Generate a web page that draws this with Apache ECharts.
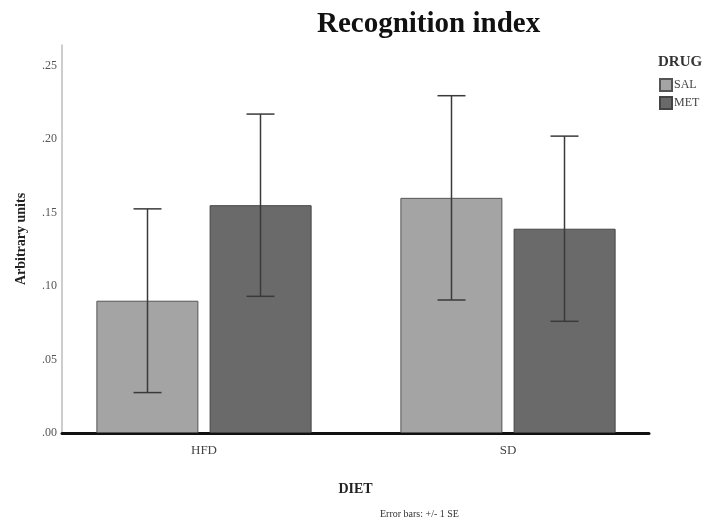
<!DOCTYPE html>
<html><head><meta charset="utf-8">
<script src="https://cdn.jsdelivr.net/npm/echarts@6/dist/echarts.min.js"></script>
<style>html,body{margin:0;padding:0;background:#fff}#c{width:708px;height:527px}</style>
</head><body><div id="c"></div>
<script>
const categories = ['HFD', 'SD'];
const seriesNames = ['SAL', 'MET'];
const salValues = [0.090, 0.160];
const metValues = [0.155, 0.139];
const salErr = [0.0625, 0.0695];
const metErr = [0.062, 0.063];
const yTicks = [0, 0.05, 0.10, 0.15, 0.20, 0.25];

const SERIF = '"Liberation Serif", "DejaVu Serif", serif';
const colors = ['#a4a4a4', '#6a6a6a'];
const yMax = 0.264;

const chart = echarts.init(document.getElementById('c'), null, {renderer: 'canvas'});

function errSeries(vals, errs, idx) {
  return {
    type: 'custom', xAxisIndex: 1, yAxisIndex: 1, z: 10,
    data: categories.map((c, i) => [i, vals[i] - errs[i], vals[i] + errs[i]]),
    renderItem: function (params, api) {
      const ci = api.value(0);
      const lo = api.coord([ci, api.value(1)]);
      const hi = api.coord([ci, api.value(2)]);
      const bw = 102, gap = 11;
      const offset = idx === 0 ? -(gap / 2 + bw / 2) : (gap / 2 + bw / 2);
      const x = lo[0] + offset;
      const cap = 14;
      const st = {stroke: '#3a3a3a', lineWidth: 1.5};
      return {type: 'group', children: [
        {type: 'line', shape: {x1: x, y1: hi[1], x2: x, y2: lo[1]}, style: st},
        {type: 'line', shape: {x1: x - cap, y1: hi[1], x2: x + cap, y2: hi[1]}, style: st},
        {type: 'line', shape: {x1: x - cap, y1: lo[1], x2: x + cap, y2: lo[1]}, style: st}
      ]};
    }
  };
}

chart.setOption({
  animation: false,
  backgroundColor: '#fff',
  grid: [
    {left: 62, right: 59, top: 45, bottom: 94},
    {left: 52, right: 48, top: 45, bottom: 94}
  ],
  xAxis: [
    {type: 'value', gridIndex: 0, min: 0, max: 1, axisLabel: {show: false}, axisTick: {show: false},
     splitLine: {show: false},
     axisLine: {show: true, lineStyle: {color: '#111', width: 3}},
     name: 'DIET', nameLocation: 'middle', nameGap: 49,
     nameTextStyle: {fontFamily: SERIF, fontWeight: 'bold', fontSize: 14, color: '#222'}},
    {type: 'category', gridIndex: 1, data: categories, axisLine: {show: false}, axisTick: {show: false},
     axisLabel: {fontFamily: SERIF, fontSize: 13, color: '#444', margin: 11}}
  ],
  yAxis: [
    {type: 'value', gridIndex: 0, min: 0, max: yMax, interval: 0.05,
     axisLine: {show: true, lineStyle: {color: '#bdbdbd', width: 1.5}},
     axisTick: {show: false}, splitLine: {show: false},
     axisLabel: {showMaxLabel: false, margin: 5, fontFamily: SERIF, fontSize: 12, color: '#555',
       formatter: v => (Math.abs(v / 0.05 - Math.round(v / 0.05)) < 1e-6) ? v.toFixed(2).replace(/^0/, '') : ''},
     name: 'Arbitrary units', nameLocation: 'middle', nameGap: 34, nameRotate: 90,
     nameTextStyle: {fontFamily: SERIF, fontWeight: 'bold', fontSize: 14, color: '#222'}},
    {type: 'value', gridIndex: 1, min: 0, max: yMax, show: false}
  ],
  legend: {
    left: 659, top: 78, orient: 'vertical', itemWidth: 12, itemHeight: 12, itemGap: 4, padding: 0,
    icon: 'rect', data: seriesNames,
    textStyle: {fontFamily: SERIF, fontSize: 12, color: '#444', padding: [0, 0, 0, -3]}
  },
  series: [
    {name: 'SAL', type: 'bar', xAxisIndex: 1, yAxisIndex: 1, data: salValues, barWidth: 102, barGap: '11%',
     itemStyle: {color: colors[0], borderColor: '#555', borderWidth: 1}},
    {name: 'MET', type: 'bar', xAxisIndex: 1, yAxisIndex: 1, data: metValues, barWidth: 102, barGap: '11%',
     itemStyle: {color: colors[1], borderColor: '#444', borderWidth: 1}},
    errSeries(salValues, salErr, 0),
    errSeries(metValues, metErr, 1)
  ],
  graphic: [
    {type: 'text', left: 317, top: 10, style: {text: 'Recognition index', font: 'bold 29px ' + SERIF, fill: '#111'}},
    {type: 'text', left: 658, top: 55, style: {text: 'DRUG', font: 'bold 15px ' + SERIF, fill: '#333'}},
    {type: 'text', left: 380, top: 509, style: {text: 'Error bars: +/- 1 SE', font: '10px ' + SERIF, fill: '#333'}}
  ]
});
</script></body></html>
